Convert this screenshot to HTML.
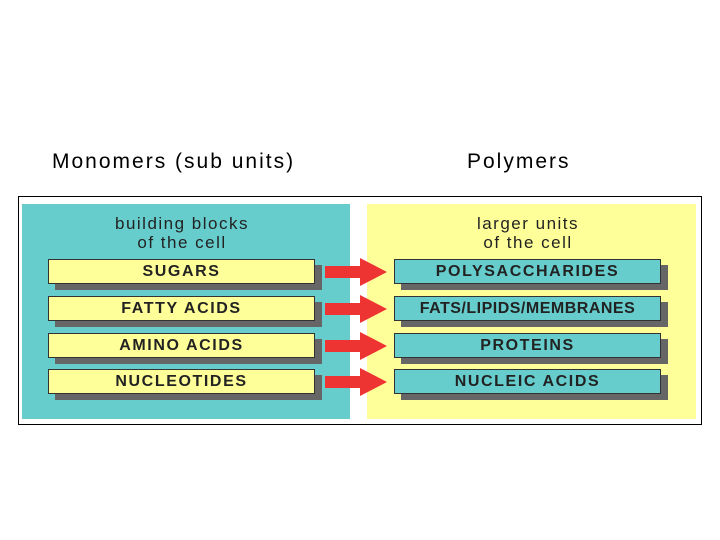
<!DOCTYPE html>
<html><head><style>
body{margin:0;width:720px;height:540px;background:#fff;position:relative;font-family:"Liberation Sans",Arial,sans-serif;overflow:hidden}
.a{position:absolute}
.t{font-size:21px;color:#000;top:150px;letter-spacing:2px}
.box{position:absolute;width:265px;height:23px;border:1px solid #333;box-shadow:7px 6px 0 #666;text-align:center;line-height:23px;font-size:16px;font-weight:bold;color:#222;letter-spacing:1.6px}
.y{background:#ffff99}
.c{background:#66cccc}
.h{position:absolute;text-align:center;font-size:17px;line-height:19px;color:#222;width:300px;letter-spacing:1.5px}
</style></head><body>
<div class="a t" style="left:52px">Monomers (sub units)</div>
<div class="a t" style="left:467px">Polymers</div>
<div class="a" style="left:18px;top:196px;width:684px;height:229px;border:1px solid #000;box-sizing:border-box"></div>
<div class="a" style="left:22px;top:204px;width:328px;height:215px;background:#66cccc"></div>
<div class="a" style="left:367px;top:204px;width:329px;height:215px;background:#ffff99"></div>
<div class="h" style="left:32px;top:214px">building blocks<br>of the cell</div>
<div class="h" style="left:378px;top:214px">larger units<br>of the cell</div>
<div class="box y" style="left:48px;top:259px">SUGARS</div>
<div class="box y" style="left:48px;top:296px">FATTY ACIDS</div>
<div class="box y" style="left:48px;top:333px">AMINO ACIDS</div>
<div class="box y" style="left:48px;top:369px">NUCLEOTIDES</div>
<div class="box c" style="left:394px;top:259px">POLYSACCHARIDES</div>
<div class="box c" style="left:394px;top:296px;letter-spacing:0.5px">FATS/LIPIDS/MEMBRANES</div>
<div class="box c" style="left:394px;top:333px">PROTEINS</div>
<div class="box c" style="left:394px;top:369px">NUCLEIC ACIDS</div>
<svg class="a" style="left:0;top:0" width="720" height="540">
<g fill="#ee3333">
<polygon points="325,266 360,266 360,258 387,272 360,286 360,278 325,278"/>
<polygon points="325,303 360,303 360,295 387,309 360,323 360,315 325,315"/>
<polygon points="325,340 360,340 360,332 387,346 360,360 360,352 325,352"/>
<polygon points="325,376 360,376 360,368 387,382 360,396 360,388 325,388"/>
</g></svg>
</body></html>
